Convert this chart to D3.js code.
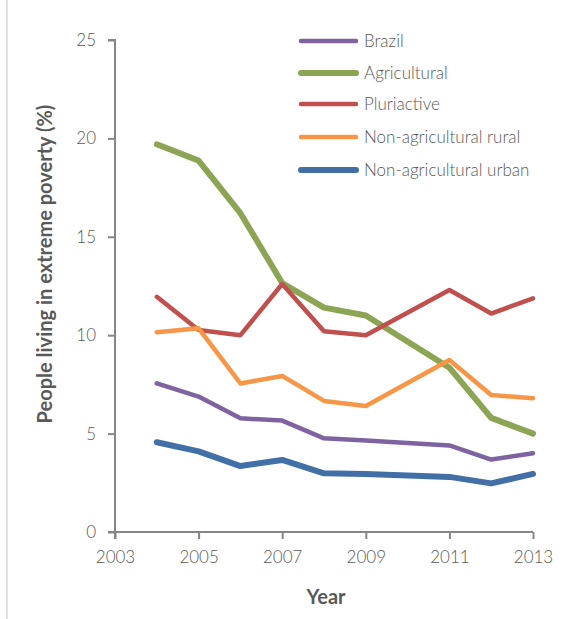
<!DOCTYPE html>
<html>
<head>
<meta charset="utf-8">
<script src="https://d3js.org/d3.v7.min.js"></script>
<style>
  body { margin: 0; background: #fff; }
  svg text { font-family: Lato, "Open Sans", sans-serif; fill: #595959; }
</style>
</head>
<body>
<div class="chart"></div>
<script>
/*DATA*/
var years = [2004, 2005, 2006, 2007, 2008, 2009, 2011, 2012, 2013];
var brazil = [7.55, 6.88, 5.78, 5.66, 4.76, 4.65, 4.4, 3.68, 4.0];
var agricultural = [19.7, 18.87, 16.2, 12.65, 11.4, 11.0, 8.35, 5.8, 5.0];
var pluriactive = [11.95, 10.26, 10.0, 12.6, 10.2, 10.0, 12.3, 11.1, 11.87];
var nonAgRural = [10.15, 10.35, 7.55, 7.93, 6.66, 6.4, 8.74, 6.96, 6.8];
var nonAgUrban = [4.56, 4.1, 3.35, 3.66, 2.98, 2.95, 2.8, 2.47, 2.95];
var seriesNames = ["Brazil", "Agricultural", "Pluriactive", "Non-agricultural rural", "Non-agricultural urban"];
var xTicks = [2003, 2005, 2007, 2009, 2011, 2013];
var yTicks = [0, 5, 10, 15, 20, 25];

var series = [
  {name: seriesNames[0], values: brazil, color: "#7f63a0", width: 4.5},
  {name: seriesNames[1], values: agricultural, color: "#8ba554", width: 6},
  {name: seriesNames[2], values: pluriactive, color: "#c0504d", width: 4.5},
  {name: seriesNames[3], values: nonAgRural, color: "#f79646", width: 4.5},
  {name: seriesNames[4], values: nonAgUrban, color: "#416fa6", width: 6}
];

var svg = d3.select(".chart").append("svg")
    .attr("width", 579)
    .attr("height", 619);

/*frame edge*/
svg.append("line")
    .attr("x1", 7).attr("x2", 7)
    .attr("y1", 0).attr("y2", 619)
    .attr("stroke", "#d9d9d9")
    .attr("stroke-width", 1.5);

var x = d3.scaleLinear().domain([2003, 2013]).range([115, 533]);
var y = d3.scaleLinear().domain([0, 25]).range([532, 40]);

/*Y AXIS*/
var yAxis = svg.append("g")
    .attr("transform", "translate(115,0)")
    .call(d3.axisLeft(y).tickValues(yTicks).tickSize(7).tickPadding(12));

/*X AXIS*/
var xAxis = svg.append("g")
    .attr("transform", "translate(0,532)")
    .call(d3.axisBottom(x).tickValues(xTicks).tickFormat(d3.format("d")).tickSize(7).tickPadding(12));

[xAxis, yAxis].forEach(function(g) {
  g.select(".domain").attr("stroke", "#868686").attr("stroke-width", 2);
  g.selectAll(".tick line").attr("stroke", "#868686").attr("stroke-width", 2);
  g.selectAll(".tick text")
      .attr("font-size", 17)
      .attr("font-weight", 300)
      .style("font-family", "Lato, sans-serif")
      .attr("fill", "#595959");
});
// axis ends without outer ticks
yAxis.select(".domain").attr("d", "M-7," + y(25) + "H0V" + (y(0) + 7));
xAxis.select(".domain").attr("d", "M" + (x(2003) - 7) + ",0H" + x(2013));

/*AXIS TITLES*/
svg.append("text")
    .attr("x", 326)
    .attr("y", 604)
    .attr("text-anchor", "middle")
    .attr("font-size", 20)
    .attr("font-weight", "bold")
    .text("Year");

svg.append("text")
    .attr("transform", "translate(52,264) rotate(-90)")
    .attr("text-anchor", "middle")
    .attr("font-size", 20)
    .attr("font-weight", "bold")
    .text("People living in extreme poverty (%)");

/*LINES*/
var line = d3.line()
    .x(function(d, i) { return x(years[i]); })
    .y(function(d) { return y(d); });

var drawOrder = [1, 2, 3, 0, 4];
drawOrder.forEach(function(k) {
  var s = series[k];
  svg.append("path")
      .datum(s.values)
      .attr("d", line)
      .attr("fill", "none")
      .attr("stroke", s.color)
      .attr("stroke-width", s.width)
      .attr("stroke-linejoin", "round")
      .attr("stroke-linecap", "round");
});

/*LEGEND*/
var legendY = [41, 73, 104, 137, 170];
var legend = svg.selectAll(".legend")
    .data(series)
    .enter().append("g")
    .attr("class", "legend")
    .attr("transform", function(d, i) { return "translate(301," + legendY[i] + ")"; });

legend.append("line")
    .attr("x1", 0).attr("x2", 55)
    .attr("stroke", function(d) { return d.color; })
    .attr("stroke-width", function(d) { return d.width; })
    .attr("stroke-linecap", "round");

legend.append("text")
    .attr("x", 63)
    .attr("dy", "0.35em")
    .attr("font-size", 17)
    .attr("font-weight", 300)
    .text(function(d) { return d.name; });
</script>
</body>
</html>
